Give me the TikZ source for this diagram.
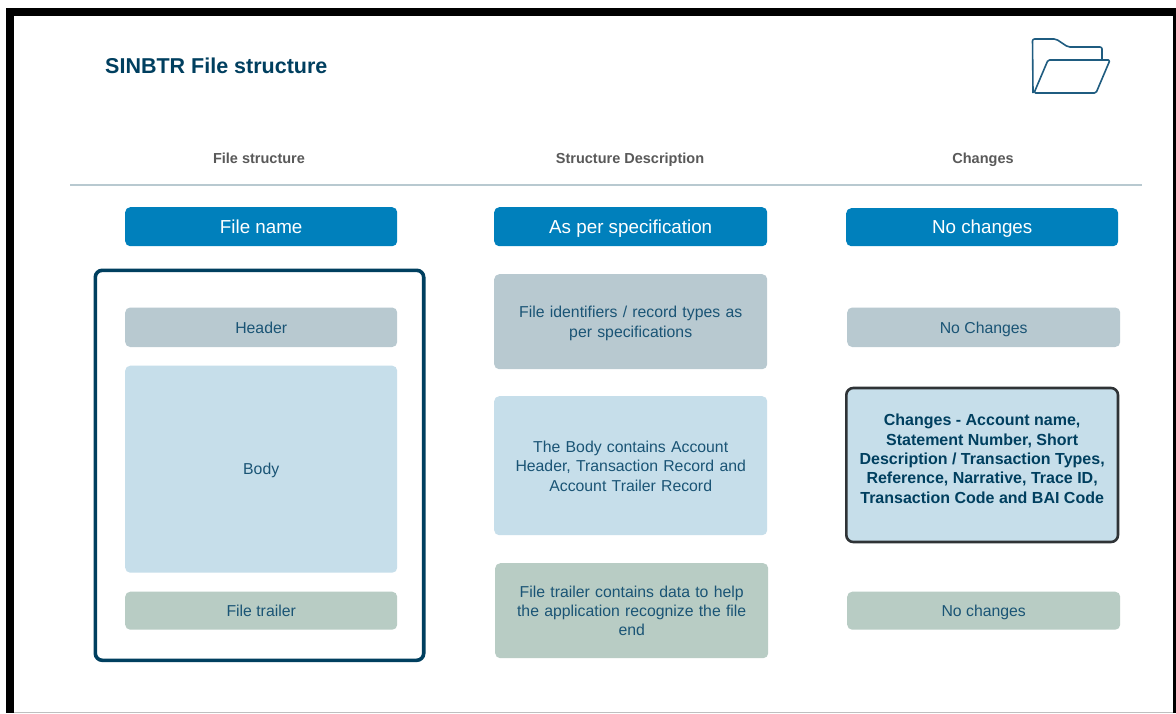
\documentclass[tikz,border=0pt]{standalone}
\usepackage{fontspec}
\setmainfont{Liberation Sans}
\definecolor{navy}{HTML}{003F5F}
\definecolor{soft}{HTML}{1A5475}
\definecolor{blu}{HTML}{0080BC}
\definecolor{gry}{HTML}{B8C9D0}
\definecolor{lbl}{HTML}{C6DEEA}
\definecolor{grn}{HTML}{B8CCC4}
\definecolor{icon}{HTML}{1F5C80}
\definecolor{edge}{HTML}{2F3336}
\tikzset{x=1pt,y=-1pt,
 boxbase/.style={rounded corners=5pt,inner sep=0pt,align=center,text=soft,font=\fontsize{15.8}{19.2}\selectfont,anchor=north west},
 hd/.style={boxbase,fill=blu,text=white,font=\fontsize{18.8}{22}\selectfont,text height=13.6pt,text depth=0pt},
 grybox/.style={boxbase,fill=gry},
 lblbox/.style={boxbase,fill=lbl},
 grnbox/.style={boxbase,fill=grn},
 oneline/.style={text height=11.5pt,text depth=0pt},
 colhead/.style={inner sep=0pt,anchor=base,font=\fontsize{14.5}{17}\bfseries\selectfont,text=black!65},
 }
\begin{document}
\begin{tikzpicture}
\useasboundingbox (0,0) rectangle (1176,713);
\fill[white] (0,0) rectangle (1176,713);
\fill[black] (6,8) rectangle (1176,16);
\fill[black] (6,8) rectangle (14,713);
\fill[black] (1172.5,8) rectangle (1176,713);
\fill[black!25] (14,712) rectangle (1172.5,713);
\node[anchor=west,inner sep=0pt,font=\fontsize{21.5}{26}\bfseries\selectfont,text=navy] (title) at (105,66) {SINBTR File structure};
\node[colhead] (h1) at (259,163) {File structure};
\node[colhead] (h2) at (630,163) {Structure Description};
\node[colhead] (h3) at (983,163) {Changes};
\coordinate (ruleL) at (70,185);
\coordinate (ruleR) at (1142,185);
\draw[color=gry,line width=1.5pt] (ruleL) -- (ruleR);
\node[hd,minimum width=272pt,minimum height=39pt] (a1) at (125,207) {File name};
\node[hd,minimum width=273pt,minimum height=39pt] (a2) at (494,207) {As per specification};
\node[hd,text height=12.6pt,minimum width=272pt,minimum height=38pt] (a3) at (846,208) {No changes};
\draw[navy,line width=3.6pt,rounded corners=7pt] (95.3,270.3) rectangle (423.7,660.3);
\node[grybox,oneline,minimum width=272pt,minimum height=39.5pt] (b1) at (125,307.3) {Header};
\node[lblbox,oneline,minimum width=272pt,minimum height=207pt] (b2) at (125,365.5) {Body};
\node[grnbox,oneline,minimum width=272pt,minimum height=38pt] (b3) at (125,591.5) {File trailer};
\node[grybox,minimum width=273pt,minimum height=95pt,text width=260pt] (c1) at (494,274) {\rule{0pt}{15pt}File identifiers / record types as\\per specifications};
\node[lblbox,minimum width=273pt,minimum height=139pt,text width=260pt] (c2) at (494,396) {\rule{0pt}{12.5pt}The Body contains Account\\Header, Transaction Record and\\Account Trailer Record};
\node[grnbox,minimum width=273pt,minimum height=95pt,text width=260pt] (c3) at (495,563) {File trailer contains data to help\\the application recognize the file\\end};
\node[grybox,oneline,minimum width=273pt,minimum height=39.5pt] (d1) at (847,307.3) {No Changes};
\node[boxbase,draw=edge,line width=2.6pt,fill=lbl,minimum width=271.7pt,minimum height=154pt,font=\fontsize{16}{19.3}\bfseries\selectfont,text=navy,rounded corners=7pt] (d2) at (845,386.7) {Changes - Account name,\\Statement Number, Short\\Description / Transaction Types,\\Reference, Narrative, Trace ID,\\Transaction Code and BAI Code\rule[-12.5pt]{0pt}{0pt}};
\node[grnbox,oneline,minimum width=273pt,minimum height=38pt] (d3) at (847,591.5) {No changes};
% folder icon
\draw[icon,line width=1.6pt,line join=round,rounded corners=2pt] (1033,93) -- (1032.5,39) -- (1056,39) -- (1068,47) -- (1102,47) -- (1102,60);
\draw[icon,line width=1.6pt,line join=round,rounded corners=1.5pt] (1034,93) -- (1048,60) -- (1110,60) -- (1096,93) -- cycle;
\end{tikzpicture}
\end{document}
